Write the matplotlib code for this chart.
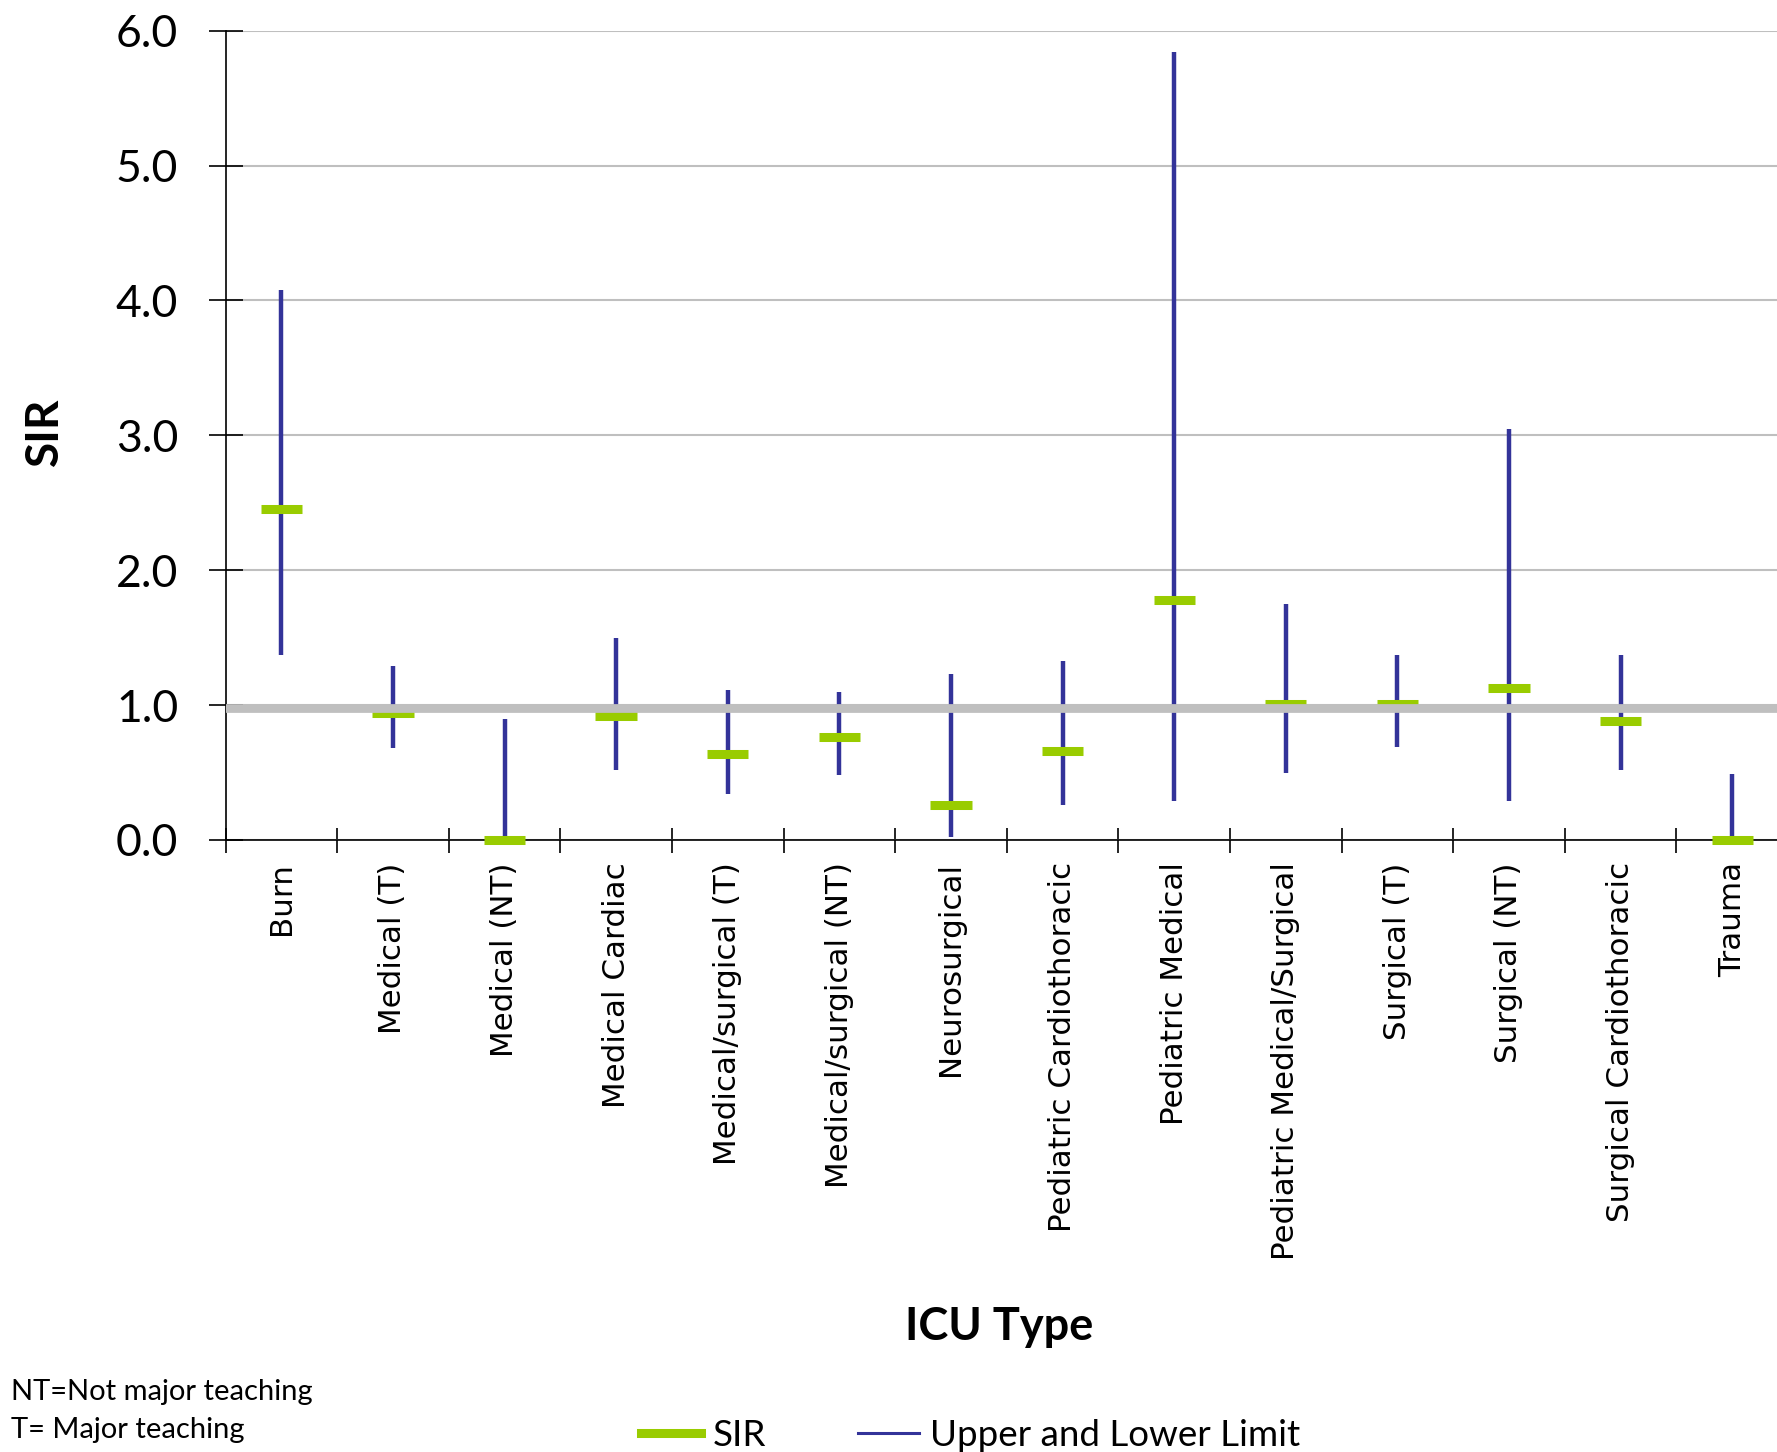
import numpy as np
import matplotlib
matplotlib.use("Agg")
import matplotlib.pyplot as plt
from matplotlib.lines import Line2D

# SIR by ICU type with upper/lower confidence limits
icu_types = ["Burn", "Medical (T)", "Medical (NT)", "Medical Cardiac",
             "Medical/surgical (T)", "Medical/surgical (NT)", "Neurosurgical",
             "Pediatric Cardiothoracic", "Pediatric Medical",
             "Pediatric Medical/Surgical", "Surgical (T)", "Surgical (NT)",
             "Surgical Cardiothoracic", "Trauma"]
sir = [2.45, 0.94, 0.0, 0.92, 0.64, 0.76, 0.26, 0.66, 1.78, 1.01, 1.01, 1.13, 0.88, 0.0]
upper = [4.08, 1.29, 0.90, 1.50, 1.11, 1.10, 1.23, 1.33, 5.84, 1.75, 1.37, 3.05, 1.37, 0.49]
lower = [1.37, 0.68, 0.0, 0.52, 0.34, 0.48, 0.02, 0.26, 0.29, 0.50, 0.69, 0.29, 0.52, 0.0]
ref_level = 0.975
y_ticks = [0, 1, 2, 3, 4, 5, 6]

BLUE = "#333399"
GREEN = "#99CC00"
GRAY = "#BFBFBF"
LABEL_FONT = ["Lato", "DejaVu Sans"]

fig = plt.figure(figsize=(17.77, 14.52), dpi=100)
ax = fig.add_axes([0.1269, 0.4215, 0.8793, 0.5574])

x = np.arange(len(icu_types))

ax.vlines(x, lower, upper, color=BLUE, linewidth=3.2, zorder=3)
ax.hlines(sir, x - 0.185, x + 0.185, color=GREEN, linewidth=6.5, zorder=4,
          clip_on=False)
ax.axhline(ref_level, color=GRAY, linewidth=6.3, zorder=5)

ax.set_xlim(-0.5, len(icu_types) - 0.5)
ax.set_ylim(0, 6)

# category boundaries as major ticks, names on minor ticks at centres
ax.set_xticks(np.arange(len(icu_types) + 1) - 0.5)
ax.set_xticklabels([])
ax.set_xticks(x, minor=True)
ax.set_xticklabels(icu_types, minor=True, rotation=90, fontsize=22.3,
                   family="DejaVu Sans")
ax.tick_params(axis="x", which="major", direction="inout", length=18, width=1.2)
ax.tick_params(axis="x", which="minor", length=0, pad=16)

ax.set_yticks(y_ticks)
ax.set_yticklabels(["%.1f" % v for v in y_ticks], family=LABEL_FONT, fontsize=32)
ax.tick_params(axis="y", direction="inout", length=24, width=1.2, pad=22)

ax.yaxis.grid(True, color=GRAY, linewidth=1.5, zorder=0)
ax.set_axisbelow(True)
for side in ["top", "right"]:
    ax.spines[side].set_visible(False)
for side in ["left", "bottom"]:
    ax.spines[side].set_linewidth(1.2)
    ax.spines[side].set_color("black")

fig.text(0.0253, 0.7025, "SIR", rotation=90, ha="center", va="center",
         fontsize=33, fontweight="bold", family=LABEL_FONT)
fig.text(0.562, 0.086, "ICU Type", ha="center", va="center",
         fontsize=32.5, fontweight="bold", family=LABEL_FONT)

fig.text(0.006, 0.041, "NT=Not major teaching", ha="left", va="center",
         fontsize=21, family=LABEL_FONT)
fig.text(0.006, 0.015, "T= Major teaching", ha="left", va="center",
         fontsize=21, family=LABEL_FONT)

handles = [Line2D([], [], color=GREEN, linewidth=6.5),
           Line2D([], [], color=BLUE, linewidth=2.2)]
fig.legend(handles, ["SIR", "Upper and Lower Limit"], loc="center",
           bbox_to_anchor=(0.546, 0.0115), ncol=2, frameon=False,
           prop={"family": LABEL_FONT, "size": 26.5}, handlelength=1.65,
           handletextpad=0.3, columnspacing=2.5)

fig.savefig("out.png", dpi=100)
